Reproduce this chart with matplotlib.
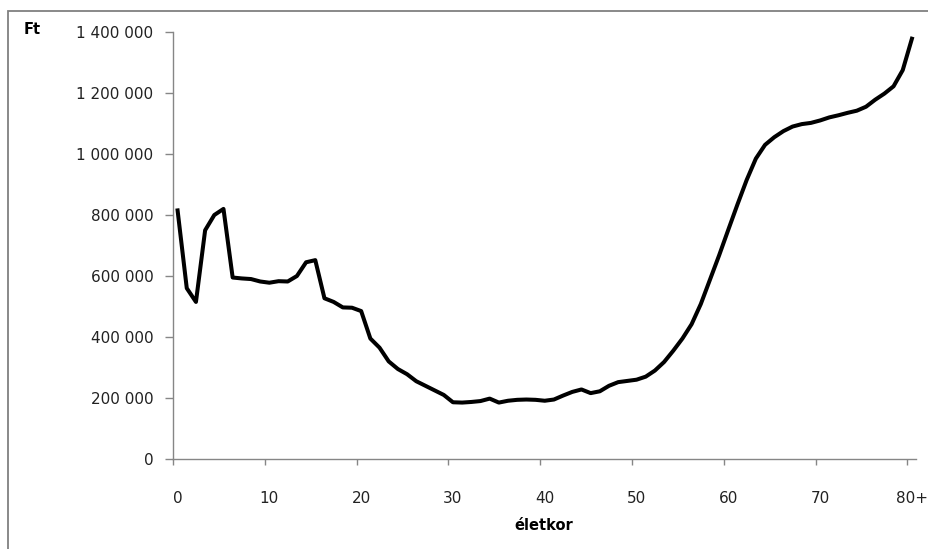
import matplotlib
matplotlib.use("Agg")
import matplotlib.pyplot as plt
from matplotlib.patches import Rectangle
from matplotlib.ticker import FixedLocator, FuncFormatter

ages = list(range(0, 81))
values = [
    815000, 560000, 515000, 750000, 800000, 820000, 595000, 592000, 590000, 582000,
    578000, 583000, 582000, 600000, 645000, 652000, 527000, 515000, 497000, 496000,
    485000, 395000, 365000, 320000, 295000, 278000, 255000, 240000, 225000, 210000,
    186000, 185000, 187000, 190000, 198000, 185000, 191000, 194000, 195000, 194000,
    191000, 195000, 208000, 220000, 228000, 216000, 222000, 240000, 252000, 256000,
    260000, 270000, 290000, 318000, 355000, 395000, 442000, 508000, 588000, 668000,
    752000, 835000, 915000, 985000, 1030000, 1055000, 1075000, 1090000, 1098000, 1102000,
    1110000, 1120000, 1127000, 1135000, 1142000, 1155000, 1178000, 1198000, 1222000, 1275000,
    1378000,
]
x_tick_positions = [0, 10, 20, 30, 40, 50, 60, 70, 80]
x_tick_labels = ["0", "10", "20", "30", "40", "50", "60", "70", "80+"]
y_ticks = [0, 200000, 400000, 600000, 800000, 1000000, 1200000, 1400000]

plt.rcParams['font.family'] = ['DejaVu Sans']

W, H = 929, 549
fig = plt.figure(figsize=(W / 100, H / 100), dpi=100)
fig.patch.set_facecolor("white")

# outer frame (cropped at right and bottom)
fig.patches.append(Rectangle((8 / W, -0.1), 1.2, (H - 11) / H + 0.1,
                             transform=fig.transFigure, fill=False,
                             edgecolor="#808080", linewidth=1.3))

ax = fig.add_axes([173 / W, (H - 459) / H, (916.5 - 173) / W, (459 - 32) / H])
ax.plot(ages, values, color="black", linewidth=2.9, solid_joinstyle="round")

ax.set_xlim(-0.5, 80.5)
ax.set_ylim(0, 1400000)

for s in ["top", "right"]:
    ax.spines[s].set_visible(False)
for s in ["left", "bottom"]:
    ax.spines[s].set_color("#868686")
    ax.spines[s].set_linewidth(1.0)

# tick marks at category boundaries, labels at category centres
ax.xaxis.set_major_locator(FixedLocator(x_tick_positions))
ax.set_xticklabels(x_tick_labels)
ax.xaxis.set_minor_locator(FixedLocator([p - 0.5 for p in x_tick_positions]))
ax.tick_params(axis="x", which="major", length=0, pad=23, labelsize=11, labelcolor="#222222")
ax.tick_params(axis="x", which="minor", length=4, width=1.0, color="#868686", direction="out")

ax.set_yticks(y_ticks)
ax.yaxis.set_major_formatter(FuncFormatter(lambda v, p: f"{int(v):,}".replace(",", " ")))
ax.tick_params(axis="y", length=6, width=1.0, color="#868686", pad=8, labelsize=11, labelcolor="#222222")

fig.text(32 / W, 1 - 29 / H, "Ft", fontsize=10.5, fontweight="bold", ha="center", va="center")
fig.text(544 / W, 1 - 526 / H, "életkor", fontsize=10.5, fontweight="bold", ha="center", va="center")

fig.savefig("out.png", dpi=100, facecolor="white")
